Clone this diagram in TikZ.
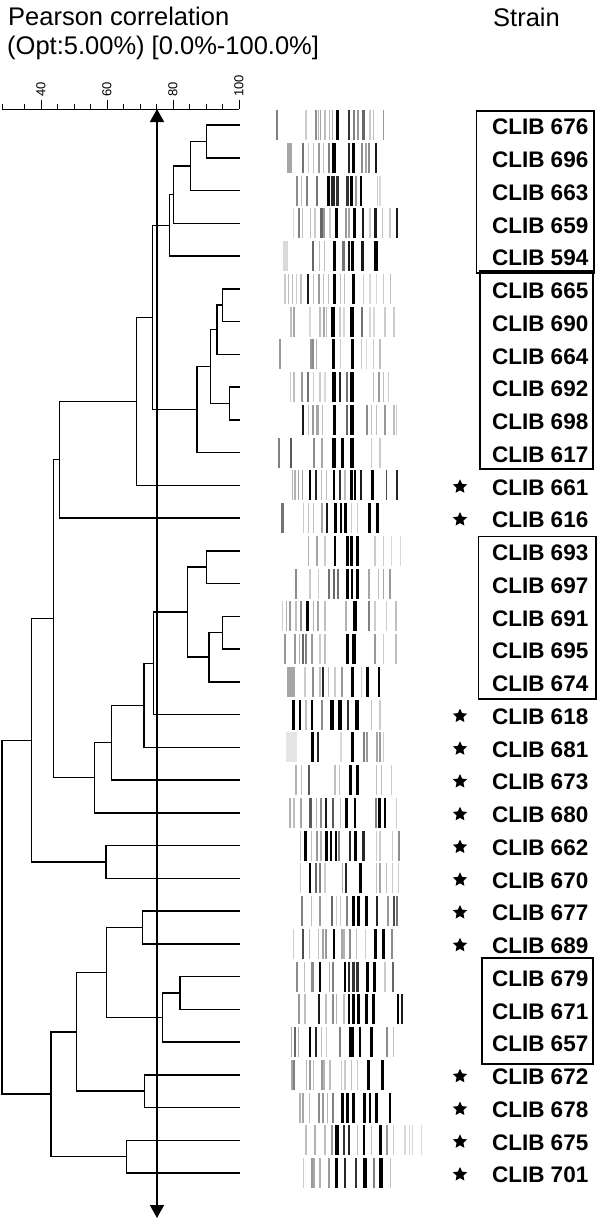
\documentclass[tikz,border=0pt]{standalone}
\usepackage{fontspec}
\setmainfont{Liberation Sans}
\usetikzlibrary{arrows.meta, shapes.geometric}

\begin{document}
\begin{tikzpicture}[x=1pt, y=-1pt,
        tree/.style={line width=1.5pt},
        axisline/.style={line width=1pt},
        title/.style={anchor=base west, inner sep=0pt, font=\fontsize{25.5}{25.5}\selectfont},
        ticklabel/.style={rotate=90, anchor=west, inner sep=0pt, font=\fontsize{13}{13}\selectfont},
        strain/.style={anchor=east, inner sep=0pt, font=\bfseries\fontsize{22.5}{22.5}\selectfont},
        starmark/.style={star, star points=5, star point ratio=2.1, fill=black, inner sep=0pt, minimum size=15pt},
        group/.style={draw, line width=1.3pt},
        cut/.style={line width=1.6pt, {Triangle[width=14pt,length=13pt]}-{Triangle[width=14pt,length=13pt]}}
    ]
    \useasboundingbox (0,0) rectangle (600,1219);

    % header
    \node[title] (head1) at (8,25) {Pearson correlation};
    \node[title] (head2) at (7,54) {(Opt:5.00\%) [0.0\%-100.0\%]};
    \node[title] (strainhead) at (493,26) {Strain};

    % scale
    \draw[axisline] (2,109) -- (239,109);
    \draw[axisline] (2,109) -- ++(0,-5);
    \foreach \v in {35,45,...,95}
        \draw[axisline] ({239-(100-\v)*3.3},109) -- ++(0,-5);
    \foreach \v in {50,70,90}
        \draw[axisline] ({239-(100-\v)*3.3},109) -- ++(0,-5);
    \foreach \v in {40,60,80,100} {
        \draw[axisline] ({239-(100-\v)*3.3},109) -- ++(0,-9);
        \node[ticklabel] (t\v) at ({239-(100-\v)*3.3},97) {\v};
    }

    % leaves
    \foreach \i in {0,...,32}
        \coordinate (l\i) at (240,{125+32.75*\i});

    % merges
    \coordinate (n1) at (206.7,141.4);
    \coordinate (n2) at (190.7,166);
    \coordinate (n3) at (173.3,194.6);
    \coordinate (n4) at (169.3,225.3);
    \coordinate (n5) at (222.7,305.1);
    \coordinate (n6) at (217,329.7);
    \coordinate (n7) at (229.3,403.4);
    \coordinate (n8) at (210.3,366.5);
    \coordinate (n9) at (197,409.5);
    \coordinate (n10) at (152.3,317.4);
    \coordinate (n11) at (136.3,401.3);
    \coordinate (n12) at (59.3,459.7);
    \coordinate (n13) at (206.7,567.1);
    \coordinate (n14) at (222.7,632.6);
    \coordinate (n15) at (209,657.2);
    \coordinate (n16) at (187.3,612.2);
    \coordinate (n17) at (153.7,663.3);
    \coordinate (n18) at (144,705.3);
    \coordinate (n19) at (111.7,742.6);
    \coordinate (n20) at (94.3,777.7);
    \coordinate (n21) at (53.3,618.7);
    \coordinate (n22) at (106,861.9);
    \coordinate (n23) at (31.7,740.3);
    \coordinate (n24) at (142.7,927.4);
    \coordinate (n25) at (180,992.9);
    \coordinate (n26) at (162.7,1017.4);
    \coordinate (n27) at (106.7,972.4);
    \coordinate (n28) at (144.7,1091.1);
    \coordinate (n29) at (76.7,1031.8);
    \coordinate (n30) at (126.7,1156.6);
    \coordinate (n31) at (51,1094.2);
    \coordinate (n32) at (2,917.3);

    \foreach \p/\c in {n1/l0, n1/l1, n2/n1, n2/l2, n3/n2, n3/l3, n4/n3, n4/l4,
            n5/l5, n5/l6, n6/n5, n6/l7, n7/l8, n7/l9, n8/n6, n8/n7, n9/n8, n9/l10,
            n10/n4, n10/n9, n11/n10, n11/l11, n12/n11, n12/l12,
            n13/l13, n13/l14, n14/l15, n14/l16, n15/n14, n15/l17, n16/n13, n16/n15,
            n17/n16, n17/l18, n18/n17, n18/l19, n19/n18, n19/l20, n20/n19, n20/l21,
            n21/n12, n21/n20, n22/l22, n22/l23, n23/n21, n23/n22,
            n24/l24, n24/l25, n25/l26, n25/l27, n26/n25, n26/l28, n27/n24, n27/n26,
            n28/l29, n28/l30, n29/n27, n29/n28, n30/l31, n30/l32, n31/n29, n31/n30,
            n32/n23, n32/n31}
        \draw[tree] (\p) |- (\c);

    % cut-off line
    \coordinate (cuttop) at (157,109);
    \coordinate (cutbot) at (157,1218);
    \draw[cut] (cuttop) -- (cutbot);

    % fingerprint lanes
    \foreach \r/\bands in {
        0/{6.7/50/2, 36/20/1.5, 45.7/45/2, 48.3/30/1.5, 50.7/35/1.5, 55/25/1.5, 59.3/25/1.5, 62.7/30/1.5, 67/100/3, 79.3/80/2, 84.3/50/2, 88/40/2, 93.7/60/2.5, 100/20/1.5, 103.3/25/1.5, 113.3/40/1.5},
        1/{19/35/5, 33.3/55/2, 38.3/20/1.5, 43.3/25/1.5, 49/40/2, 53.3/25/1.5, 59/50/2, 64/100/4, 79/85/2, 83/100/3, 91.7/45/2, 95.7/35/2, 98.7/45/2, 106/90/2},
        2/{27.3/45/2, 31.7/25/1.5, 36.7/50/2, 46.7/55/2, 58.7/100/3, 63.3/85/4, 67.3/80/3, 77.3/80/2.5, 81.7/100/3, 85.7/40/2, 91/100/2.5, 107.3/20/1.5, 110/15/1.5},
        3/{23.3/15/1.5, 29.3/50/2, 32.3/25/1.5, 40.7/25/1.5, 45/20/1.5, 51.7/60/2.5, 54/40/2, 60/20/1.5, 66.3/100/3, 76/40/2, 78.7/35/2, 84.3/100/2.5, 93.3/90/2, 100/20/1.5, 105.7/90/2.5, 112.3/25/1.5, 120/20/1.5, 127/90/1.2},
        4/{15/15/5, 42.7/60/2, 49.3/25/1.5, 54.3/25/1.5, 64.3/100/3.5, 73.3/55/2.5, 79/90/2.5, 82.7/100/3, 92.7/90/2.5, 106/100/4.5},
        5/{15/20/1.5, 18.3/25/1.5, 22.3/25/1.5, 26.7/20/1.5, 31/25/1.5, 38.3/90/2, 43.3/25/1.5, 49/40/2, 53.3/25/1.5, 58.3/25/1.5, 64.3/100/3.5, 70.7/25/1.5, 74.7/25/1.5, 83.7/100/3.5, 93.3/20/1.5, 100/15/1.5, 106.7/15/1.5, 113.3/20/1.5, 120.7/25/1.5},
        6/{21/25/1.5, 24/35/2, 40/15/1.5, 50/25/1.5, 54/35/2, 56.7/25/1.5, 63.3/100/4, 70/20/1.5, 74/15/1.5, 82/100/3.5, 92.3/55/2, 100/15/1.5, 104/15/1.5, 115/20/1.5, 124/20/1.5},
        7/{10/40/2, 40.7/40/2, 43.3/45/2, 46.7/30/1.5, 63.3/100/3.5, 70.7/20/1.5, 82.3/100/3.5, 91.7/20/1.5, 96.7/15/1.5, 103.3/20/1.5, 110/25/1.5},
        8/{20.7/20/1.5, 24/25/1.5, 32.3/40/2, 38.3/55/2, 43.3/20/1.5, 50/20/1.5, 55/15/1.5, 64/100/3.5, 70/85/2.5, 76.7/55/2, 82/100/3.5, 103.3/25/1.5, 109.3/40/2, 113.3/25/1.5, 118.3/20/1.5},
        9/{32.7/90/2, 38.3/25/1.5, 42.7/40/2, 47.7/35/2.5, 52.7/25/1.5, 64.3/100/3, 77.3/60/2, 82/100/3.5, 96.7/45/2, 101.7/25/1.5, 106.7/25/1.5, 115/40/2, 124/25/1.5, 126.7/20/1.5},
        10/{9.3/50/2, 21/65/2.5, 44.3/45/2, 52.3/35/2, 64.3/100/4, 72.7/100/3.5, 82/100/4, 101.7/20/1.5, 110/20/1.5},
        11/{22.3/30/1.5, 25/30/1.5, 28.3/35/1.5, 32.3/35/1.5, 40/100/2.5, 45.7/85/2, 51.7/25/1.5, 56.7/25/1.5, 64/100/2.5, 70/80/2, 75/25/1.5, 81.7/100/3, 85/100/2.5, 90.7/90/2, 102.3/100/2.5, 116.3/70/1.5, 127/85/1.5},
        12/{12.7/55/2.5, 33.3/20/1.5, 38.3/25/1.5, 43.3/25/1.5, 51.7/35/2, 57.3/90/2, 65/100/3, 71/100/2.5, 75.7/100/2.5, 81.7/20/1.5, 87.3/20/1.5, 99.3/100/3, 107.3/100/2.5},
        13/{38.3/30/1.5, 46.7/35/2, 55/20/1.5, 65/100/2.5, 77.7/100/2.5, 81.7/100/2.5, 87.7/100/2.5, 105/20/1.5, 113.3/20/1.5, 121.7/15/1.5, 130.7/15/1.5},
        14/{26/45/2, 40/20/1.5, 48.3/20/1.5, 59.3/55/2, 64.3/60/2, 67.7/55/2, 77.3/100/2.5, 82/100/2.5, 87.3/100/2.5, 99/35/1.5, 108.3/25/1.5, 113.3/35/1.5, 120/40/2},
        15/{12.7/20/1.5, 16.7/30/1.5, 20/40/2, 26/25/1.5, 31/45/2, 37.3/100/3, 43.3/30/1.5, 48.3/35/2, 55/25/1.5, 76/30/1.5, 85/100/3.5, 99.3/50/2, 105/20/1.5, 116.7/20/1.5, 126/25/1.5},
        16/{15/40/2, 25/40/2, 29.3/30/1.5, 33.3/60/2, 35.7/50/2, 41.7/40/2, 50/20/1.5, 55/25/1.5, 77.7/100/2.5, 84/100/3.5, 105/40/2, 113.3/20/1.5, 126/25/1.5},
        17/{20.7/35/8, 35/20/1.5, 43.3/45/2, 50/25/1.5, 53.3/85/2, 58.3/25/1.5, 65/20/1.5, 72.3/40/2, 82.3/100/3.5, 91.7/20/1.5, 97.7/100/2.5, 109/100/2.5},
        18/{23.3/100/2.5, 30/100/2.5, 36/25/1.5, 42/100/2.5, 51.7/45/2, 62.3/100/4, 70/100/3.5, 77.7/80/2, 86.7/100/4, 101.7/25/1.5, 110/20/1.5},
        19/{21.7/10/11, 42.7/100/3, 48.3/85/2, 71/15/1.5, 82.3/100/3.5, 94.3/50/2, 96.7/40/2, 107.3/35/2, 110/40/2, 113.3/20/1.5},
        20/{26/30/1.5, 31.7/25/1.5, 38.7/65/2, 65/25/1.5, 69.3/25/1.5, 80.3/100/2.5, 87.7/100/2.5, 106.7/25/1.5, 111.7/25/1.5, 121.7/20/1.5},
        21/{20/30/1.5, 24/25/1.5, 30.7/35/2, 40/65/3, 46.7/30/1.5, 51/45/2, 56/90/2, 63.3/65/2, 70.7/25/1.5, 76.7/100/2.5, 85/100/2.5, 106/50/2, 109.3/100/2.5, 115/100/2.5, 126.7/20/1.5},
        22/{30.7/25/1.5, 35.7/100/3.5, 41.7/25/1.5, 47.3/40/2, 51/30/1.5, 56.7/100/2.5, 61/100/2.5, 66/100/2.5, 69.3/50/2, 80/85/2.5, 85.7/100/2.5, 93.3/85/2.5, 106.7/20/1.5, 110/20/1.5, 122.7/20/1.5, 129.3/45/2},
        23/{30.7/20/1.5, 40/100/2.5, 46/60/2, 50/50/2, 55/20/1.5, 72.3/30/1.5, 76/85/2, 90.7/100/2.5, 106.7/25/1.5, 110/35/2, 116.7/25/1.5, 122.7/20/1.5, 128.3/20/1.5},
        24/{31.7/50/2, 41.7/25/1.5, 50/40/2, 61.7/60/2, 66.7/20/1.5, 70.7/20/1.5, 77.3/50/2, 83.3/100/2.5, 88.3/100/2.5, 96.7/100/2.5, 107.3/85/2, 118.3/40/2, 124/70/2, 126.7/55/2},
        25/{23.3/20/1.5, 33.3/70/2, 39.3/25/1.5, 48.3/25/1.5, 53.3/35/2, 56/40/2, 64/100/2.5, 71.7/35/2, 74/30/1.5, 80/45/2, 86.7/25/1.5, 95.7/20/1.5, 105.3/100/2.5, 113.3/100/3.5, 121.7/45/2},
        26/{27.3/45/2, 34.3/25/1.5, 42.7/45/2.5, 50/100/2.5, 59.3/30/1.5, 63.3/50/2, 75/100/2.5, 79/85/2.5, 83.3/80/3.5, 87.3/80/2.5, 97.7/100/2.5, 104.3/100/2.5, 115/20/1.5, 123.3/60/2},
        27/{29.3/40/2, 35/25/1.5, 49/90/2, 56/25/1.5, 63.3/45/2, 66.7/30/1.5, 74/25/1.5, 79/100/2.5, 83.3/100/2.5, 88.3/100/2.5, 96.7/100/2.5, 103.3/100/3.5, 128.3/100/2, 131.7/90/2},
        28/{21.7/30/1.5, 25/60/2, 28.3/30/1.5, 40/100/2.5, 46/85/2, 51.7/25/1.5, 56.7/20/1.5, 70/50/2, 81.7/100/5, 90/100/2.5, 101.7/100/2.5, 117.3/45/2, 123.3/25/1.5},
        29/{21.7/35/2, 24/50/2, 36.7/30/1.5, 40/40/2, 43.3/25/1.5, 51.7/40/2, 54/30/1.5, 60/25/1.5, 71.7/20/1.5, 75/20/1.5, 81.7/25/1.5, 87.3/20/1.5, 98.3/100/2.5, 112.3/100/3.5},
        30/{30/30/1.5, 32.7/35/2, 39.3/25/1.5, 49.3/45/2, 52.7/40/2, 57.3/30/1.5, 63.3/50/2, 72.7/100/2.5, 77.7/100/2.5, 83.7/100/2.5, 94.3/100/2.5, 100/100/2.5, 106.7/100/2.5, 120/100/2},
        31/{36/25/1.5, 45/30/1.5, 55/25/1.5, 61.7/40/2, 66.7/100/4, 74/80/2, 79/85/2, 87.3/25/1.5, 94/100/2.5, 101.7/25/1.5, 110.7/100/3.5, 117.3/40/2, 123.3/20/1.5, 135/15/1.5, 139.3/15/1.5, 142.7/15/1.5, 151.7/15/1.5},
        32/{33.3/20/1.5, 41.7/40/2, 44/35/2, 50/30/1.5, 59.3/40/2, 66.7/100/3.5, 75/85/2, 86/80/2, 94.7/100/4, 104/50/2, 111/100/3.5, 120.7/25/1.5}}
        \foreach \o/\k/\w in \bands
            \fill[black!\k] ({270+\o-\w/2},{110+32.75*\r}) rectangle ++(\w,30);

    % strain names
    \foreach \i/\s in {0/676, 1/696, 2/663, 3/659, 4/594, 5/665, 6/690, 7/664, 8/692,
            9/698, 10/617, 11/661, 12/616, 13/693, 14/697, 15/691, 16/695, 17/674,
            18/618, 19/681, 20/673, 21/680, 22/662, 23/670, 24/677, 25/689, 26/679,
            27/671, 28/657, 29/672, 30/678, 31/675, 32/701}
        \node[strain] (s\i) at (588.5,{127+32.75*\i}) {CLIB \s};

    \foreach \i in {11,12,18,19,20,21,22,23,24,25,29,30,31,32}
        \node[starmark] (m\i) at (460,{126.5+32.75*\i}) {};

    % groups
    \draw[group] (476.7,111) rectangle (594,273);
    \draw[group] (480,271) rectangle (593,469);
    \draw[group] (478.7,536.7) rectangle (596,699);
    \draw[group] (482,958) rectangle (593,1064);
\end{tikzpicture}
\end{document}
